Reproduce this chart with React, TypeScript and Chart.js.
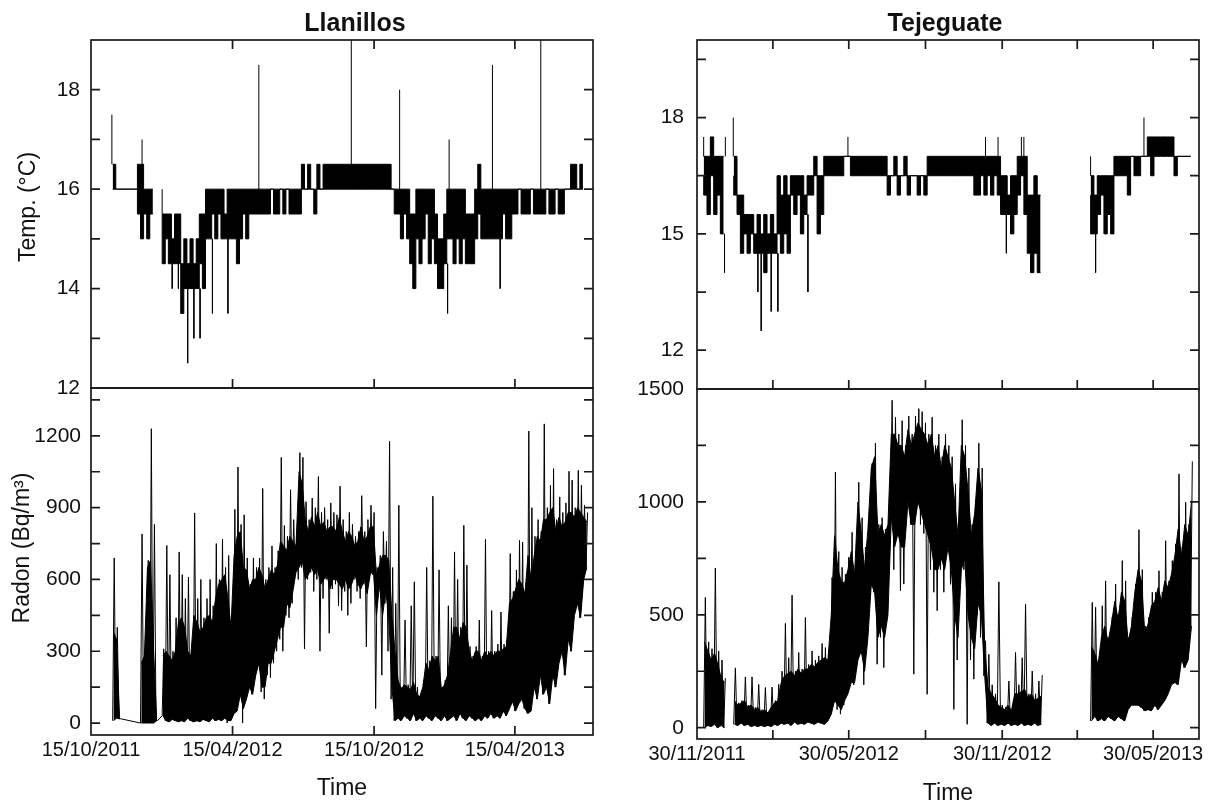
import React, { useEffect, useRef } from "react";
import { Chart, registerables } from "chart.js";
Chart.register(...registerables);

const FONT = "'Liberation Sans', Arial, Helvetica, sans-serif";
const BIN_DAYS = 4;

// ================= Llanillos (days since 15/10/2011, one bin every 4 days) =================
const LL_FIRST_DAY = 28;
// extreme low / high of each bin (thin excursions)
const LL_RADON_LO = [
  10, 20, 18, null, null, null, null, null, null, 0,
  0, 0, 0, 0, 10, null, 30, 10, 5, 15,
  10, 5, 10, 5, 20, 10, 5, 10, 5, 15,
  10, 5, 20, 10, 15, 10, 20, 0, 10, 40,
  50, 120, 0, 100, 150, 120, 200, 250, 130, 100,
  200, 190, 250, 300, 350, 300, 450, 440, 500, 630,
  600, 650, 310, 600, 630, 550, 600, 300, 520, 600,
  375, 560, 580, 490, 470, 550, 450, 500, 600, 550,
  520, 580, 318, 600, 620, 60, 550, 200, 500, 300,
  100, 10, 20, 10, 30, 20, 10, 40, 10, 20,
  10, 30, 20, 10, 30, 20, 10, 30, 10, 20,
  30, 10, 40, 20, 10, 30, 20, 10, 20, 10,
  30, 20, 40, 20, 30, 20, 50, 30, 60, 90,
  50, 80, 100, 60, 40, 50, 150, 100, 200, 120,
  150, 80, 200, 150, 250, 300, 200, 350, 300, 450,
  500, 440, 600, 650,
];
const LL_RADON_HI = [
  690, 400, 18, null, null, null, null, null, null, 790,
  300, 680, 1230, 830, 10, null, 310, 742, 620, 300,
  440, 715, 620, 520, 610, 300, 878, 520, 600, 440,
  520, 600, 490, 750, 600, 768, 650, 700, 440, 893,
  1070, 830, 870, 690, 580, 690, 650, 690, 980, 600,
  650, 740, 650, 720, 1110, 825, 780, 975, 850, 780,
  1130, 1110, 925, 850, 940, 900, 1030, 880, 900, 850,
  920, 880, 870, 990, 850, 800, 880, 830, 780, 800,
  950, 800, 850, 910, 880, 650, 700, 800, 760, 1177,
  650, 500, 910, 150, 430, 160, 490, 590, 150, 120,
  180, 650, 260, 948, 280, 640, 150, 180, 490, 440,
  715, 600, 400, 826, 660, 320, 280, 320, 430, 280,
  768, 300, 470, 300, 330, 464, 330, 350, 708, 550,
  640, 763, 756, 575, 1220, 900, 780, 850, 800, 1250,
  900, 994, 1063, 850, 945, 880, 920, 1052, 1015, 900,
  1056, 994, 910, 880,
];
// bottom / top of the dense core of each bin
const LL_RADON_CORE_LO = [
  10, 20, 18, null, null, null, null, null, null, 0,
  0, 0, 0, 0, 10, null, 30, 10, 5, 15,
  10, 5, 10, 5, 20, 10, 5, 10, 5, 15,
  10, 5, 20, 10, 15, 10, 20, 10, 10, 40,
  50, 120, 60, 100, 150, 120, 200, 250, 150, 150,
  250, 250, 300, 350, 400, 400, 500, 480, 550, 630,
  650, 680, 600, 620, 650, 620, 640, 580, 600, 620,
  560, 600, 600, 580, 560, 600, 560, 580, 620, 580,
  560, 600, 540, 620, 640, 450, 580, 450, 550, 450,
  150, 10, 20, 10, 30, 20, 10, 40, 10, 20,
  10, 30, 20, 10, 30, 20, 10, 30, 10, 20,
  30, 10, 40, 20, 10, 30, 20, 10, 20, 10,
  30, 20, 40, 20, 30, 20, 50, 30, 60, 90,
  50, 80, 100, 60, 40, 50, 150, 100, 200, 120,
  150, 80, 200, 150, 250, 300, 200, 350, 300, 450,
  500, 440, 600, 650,
];
const LL_RADON_CORE_HI = [
  380, 350, 18, null, null, null, null, null, null, 250,
  280, 650, 680, 300, 10, null, 280, 300, 280, 260,
  300, 420, 440, 400, 300, 280, 450, 420, 380, 400,
  440, 450, 420, 520, 580, 600, 620, 520, 400, 700,
  780, 800, 650, 640, 560, 600, 600, 650, 620, 560,
  600, 640, 620, 660, 760, 740, 720, 780, 760, 740,
  1050, 1000, 850, 800, 860, 820, 880, 820, 840, 800,
  820, 820, 800, 860, 800, 760, 800, 780, 740, 760,
  820, 760, 780, 820, 820, 620, 660, 700, 700, 680,
  450, 300, 180, 140, 160, 150, 140, 170, 120, 110,
  150, 250, 220, 280, 260, 280, 140, 160, 200, 300,
  400, 400, 350, 420, 400, 300, 260, 300, 300, 260,
  300, 280, 300, 280, 300, 300, 310, 320, 500, 520,
  560, 600, 580, 540, 700, 600, 700, 780, 760, 850,
  850, 880, 900, 800, 860, 820, 840, 880, 880, 860,
  900, 880, 860, 840,
];
const LL_TEMP_LO = [
  16, 16, 16, 16, 16, 16, 16, 16, 16, 15.5,
  15, 15.5, 15, 15.5, null, null, 15.5, 14.5, 15, 14.5,
  14.5, 14.5, 14.5, 13.5, 14, 14, 14, 14, 14, 14.5,
  14, 15, 15, 15.5, 15, 15.5, 15, 15, 15, 15,
  15, 14.5, 15, 15.5, 15, 15.5, 15.5, 15.5, 15.5, 15.5,
  15.5, 15.5, 16, 15.5, 15.5, 16, 15.5, 16, 15.5, 15.5,
  15.5, 15.5, 16, 16, 16, 16, 15.5, 16, 16, 16,
  16, 16, 16, 16, 16, 16, 16, 16, 16, 16,
  16, 16, 16, 16, 16, 16, 16, 16, 16, 16,
  16, 16, 15.5, 15.5, 15, 15.5, 15, 14.5, 14, 15,
  14.5, 15, 15.5, 14.5, 15, 14.5, 14, 14, 14.5, 15,
  15, 14.5, 15, 14.5, 15, 14.5, 14.5, 14.5, 15, 15.5,
  15, 15, 15, 15, 15, 15, 15, 15.5, 15, 15,
  15.5, 15.5, 16, 15.5, 15.5, 15.5, 16, 15.5, 15.5, 15.5,
  15.5, 16, 15.5, 15.5, 16, 15.5, 15.5, 16, 16, 16,
  16, 16, 16, null,
];
const LL_TEMP_HI = [
  16.5, 16.5, 16, 16, 16, 16, 16, 16, 16, 16.5,
  16.5, 16, 16, 16, null, null, 16, 15.5, 15.5, 15.5,
  15, 15.5, 15.5, 14.5, 15, 14.5, 15, 14.5, 15, 15.5,
  15.5, 16, 16, 16, 16, 16, 16, 15.5, 16, 16,
  16, 16, 16, 16, 16, 16, 16, 16, 16, 16,
  16, 16, 16, 16, 16, 16, 16, 16, 16, 16,
  16, 16, 16.5, 16, 16.5, 16, 16, 16.5, 16, 16.5,
  16.5, 16.5, 16.5, 16.5, 16.5, 16.5, 16.5, 16.5, 16.5, 16.5,
  16.5, 16.5, 16.5, 16.5, 16.5, 16.5, 16.5, 16.5, 16.5, 16.5,
  16.5, 16, 16, 16, 16, 16, 16, 15.5, 15.5, 16,
  16, 16, 16, 16, 16, 15.5, 15, 15, 15.5, 16,
  16, 16, 16, 16, 16, 15.5, 15.5, 15.5, 16, 16.5,
  16, 16, 16, 16, 16, 16, 16, 16, 16, 16,
  16, 16, 16, 16, 16, 16, 16, 16, 16, 16,
  16, 16, 16, 16, 16, 16, 16, 16, 16, 16.5,
  16.5, 16, 16.5, null,
];
// isolated single-reading spikes of temperature
const LL_TEMP_SPIKE_DAYS = [27, 66, 105, 113, 125, 133, 141, 157, 177, 217, 336.5, 399, 461, 463, 519, 529, 581.5];
const LL_TEMP_SPIKE_BASE = [16.5, 16.5, 14.5, 14.5, 14, 14, 14, 15, 15, 16, 16.5, 16, 14.5, 16, 16, 15, 16];
const LL_TEMP_SPIKE_TIP = [17.5, 17, 14, 14, 12.5, 13, 13, 13.5, 13.5, 18.5, 19.5, 18, 13.5, 17, 18.5, 14, 19.5];

const LL_X_MAX = 649;
const LL_X_TICK_DAYS = [0, 183, 366, 548];
const LL_X_TICK_LABELS = ["15/10/2011", "15/04/2012", "15/10/2012", "15/04/2013"];
const LL_TEMP_TICKS = [12, 13, 14, 15, 16, 17, 18];
const LL_TEMP_LABELS = [12, 14, 16, 18];
const LL_RADON_TICKS = [0, 150, 300, 450, 600, 750, 900, 1050, 1200, 1350];
const LL_RADON_LABELS = [0, 300, 600, 900, 1200];

// ================= Tejeguate (days since 30/11/2011, one bin every 4 days) =================
const TJ_FIRST_DAY = 8;
const TJ_RADON_LO = [
  0, 10, 5, 15, 0, 10, 0, null, null, 15,
  10, 20, 10, 15, 5, 10, 5, 10, 5, 10,
  5, 15, 10, 20, 15, 20, 10, 25, 15, 20,
  15, 25, 20, 15, 25, 20, 15, 30, 60, 120,
  80, 60, 100, 150, 200, 190, 300, 340, 190, 400,
  635, 600, 281, 400, 266, 500, 930, 700, 860, 607,
  636, 1000, 900, 237, 1000, 900, 860, 148, 700, 600,
  518, 700, 600, 800, 635, 81, 300, 635, 700, 15,
  300, 215, 500, 400, 230, 20, 10, 20, 10, 15,
  10, 20, 10, 15, 10, 20, 10, 15, 10, 20,
  10, 15, null, null, null, null, null, null, null, null,
  null, null, null, null, null, null, 30, 50, 30, 40,
  30, 50, 40, 30, 50, 40, 30, 80, 100, 100,
  100, 90, 75, 80, 75, 100, 80, 100, 120, 150,
  190, 200, 190, 300, 266, 300, 450,
];
const TJ_RADON_HI = [
  577, 380, 350, 707, 340, 300, 220, null, null, 265,
  110, 120, 225, 100, 225, 90, 192, 80, 178, 70,
  180, 120, 192, 250, 462, 310, 587, 250, 333, 260,
  488, 280, 340, 300, 318, 373, 355, 320, 665, 1132,
  780, 710, 680, 755, 865, 720, 1087, 930, 800, 930,
  1170, 1260, 900, 930, 880, 930, 1450, 1375, 1300, 1360,
  1250, 1380, 1300, 1380, 1413, 1400, 1350, 1300, 1375, 1250,
  1300, 1200, 1300, 1250, 1200, 1080, 900, 1364, 1250, 1150,
  900, 1000, 1260, 1150, 385, 325, 190, 150, 646, 100,
  90, 207, 80, 333, 190, 310, 547, 150, 251, 150,
  207, 233, null, null, null, null, null, null, null, null,
  null, null, null, null, null, null, 555, 533, 300, 540,
  650, 400, 490, 636, 500, 740, 650, 400, 490, 636,
  877, 700, 450, 490, 600, 600, 695, 600, 828, 650,
  740, 814, 1124, 800, 998, 900, 1179,
];
const TJ_RADON_CORE_LO = [
  0, 10, 5, 15, 0, 10, 0, null, null, 15,
  10, 20, 10, 15, 5, 10, 5, 10, 5, 10,
  5, 15, 10, 20, 15, 20, 10, 25, 15, 20,
  15, 25, 20, 15, 25, 20, 15, 30, 60, 120,
  100, 80, 120, 150, 200, 200, 300, 340, 250, 400,
  635, 600, 400, 450, 400, 500, 930, 800, 860, 800,
  800, 1000, 900, 900, 1000, 950, 900, 850, 800, 700,
  700, 750, 700, 800, 700, 500, 400, 700, 750, 500,
  400, 350, 550, 500, 230, 20, 10, 20, 10, 15,
  10, 20, 10, 15, 10, 20, 10, 15, 10, 20,
  10, 15, null, null, null, null, null, null, null, null,
  null, null, null, null, null, null, 30, 50, 30, 40,
  30, 50, 40, 30, 50, 40, 30, 80, 100, 100,
  100, 90, 75, 80, 75, 100, 80, 100, 120, 150,
  190, 200, 190, 300, 266, 300, 450,
];
const TJ_RADON_CORE_HI = [
  380, 340, 300, 330, 280, 220, 200, null, null, 120,
  100, 110, 120, 90, 100, 80, 90, 70, 80, 65,
  90, 110, 120, 200, 230, 240, 250, 230, 260, 240,
  260, 260, 280, 270, 290, 300, 310, 300, 500, 850,
  700, 650, 640, 700, 780, 680, 1000, 860, 700, 880,
  1150, 1200, 860, 900, 850, 900, 1300, 1300, 1250, 1250,
  1200, 1320, 1250, 1300, 1350, 1320, 1300, 1250, 1300, 1200,
  1250, 1150, 1250, 1200, 1150, 1000, 850, 1250, 1200, 1050,
  850, 950, 1150, 1050, 350, 180, 150, 130, 100, 90,
  80, 100, 75, 150, 150, 160, 170, 130, 150, 120,
  130, 140, null, null, null, null, null, null, null, null,
  null, null, null, null, null, null, 360, 330, 280, 400,
  450, 380, 460, 560, 480, 600, 560, 380, 450, 600,
  700, 650, 420, 460, 540, 560, 620, 560, 650, 620,
  680, 760, 880, 760, 900, 850, 1000,
];
const TJ_TEMP_LO = [
  16.5, 16, 15.5, 16.5, 15.5, 16, 15, null, null, 16.5,
  16, 15.5, 14.5, 15, 14.5, 15, 14.5, 14.5, 14.5, 14,
  14.5, 14.5, 14.5, 15, 14.5, 15, 14.5, 16, 15.5, 16,
  15, 15.5, 16, 16, 16.5, 15, 15.5, 16.5, 16.5, 16.5,
  16.5, 16.5, 16.5, 17, 17, 16.5, 16.5, 16.5, 16.5, 16.5,
  16.5, 16.5, 16.5, 16.5, 16.5, 16.5, 16, 16.5, 16.5, 16,
  16.5, 16.5, 16, 16.5, 16.5, 16, 16.5, 16, 16.5, 16.5,
  16.5, 16.5, 16.5, 16.5, 16.5, 16.5, 16.5, 16.5, 16.5, 16.5,
  16.5, 16.5, 16, 16, 16.5, 16, 16.5, 16, 16.5, 16,
  15.5, 15.5, 15.5, 15, 15.5, 16, 16.5, 15.5, 14.5, 14,
  14.5, 14, null, null, null, null, null, null, null, null,
  null, null, null, null, null, null, 16, 15, 15, 15.5,
  16, 15, 15.5, 15, 16.5, 16.5, 16.5, 16.5, 16, 17,
  16.5, 16.5, 17, 17, 17, 16.5, 17, 17, 17, 17,
  17, 17, 16.5, 17, 17, 17, 17,
];
const TJ_TEMP_HI = [
  17.5, 17, 17, 17.5, 17, 17, 17, null, null, 17,
  17, 16, 16, 15.5, 15.5, 15.5, 15, 15.5, 15, 15.5,
  15, 15.5, 15, 16.5, 16, 16.5, 16, 16.5, 16.5, 16.5,
  16.5, 16, 16.5, 16.5, 17, 16.5, 16.5, 17, 17, 17,
  17, 17, 17, 17, 17, 17, 17, 17, 17, 17,
  17, 17, 17, 17, 17, 17, 16.5, 16.5, 17, 16.5,
  16.5, 17, 16.5, 16.5, 16.5, 16.5, 16.5, 16.5, 17, 17,
  17, 17, 17, 17, 17, 17, 17, 17, 17, 17,
  17, 17, 17, 17, 17, 17, 17, 17, 17, 17,
  16.5, 16.5, 16, 16.5, 16.5, 17, 17, 17, 16, 16,
  16.5, 16, null, null, null, null, null, null, null, null,
  null, null, null, null, null, null, 17, 16.5, 16, 16.5,
  16.5, 16.5, 16.5, 16.5, 17, 17, 17, 17, 17, 17,
  17, 17, 17, 17, 17.5, 17.5, 17.5, 17.5, 17.5, 17.5,
  17.5, 17.5, 17, 17, 17, 17, 17,
];
const TJ_TEMP_SPIKE_DAYS = [33, 34, 43.5, 73, 77, 89, 97, 133, 181, 346, 361, 371, 389, 392, 478, 536];
const TJ_TEMP_SPIKE_BASE = [15, 17, 17, 14.5, 14.5, 14.5, 14.5, 15.5, 17, 17, 17, 15.5, 17, 17, 15, 17];
const TJ_TEMP_SPIKE_TIP = [14, 17.5, 18, 13.5, 12.5, 13, 13, 13.5, 17.5, 17.5, 17.5, 14.5, 17.5, 17.5, 14, 18];

const TJ_X_MAX = 602;
const TJ_X_TICK_DAYS = [0, 91, 182, 274, 366, 456, 547];
const TJ_X_TICK_LABELS = ["30/11/2011", "", "30/05/2012", "", "30/11/2012", "", "30/05/2013"];
const TJ_TEMP_TICKS = [12, 13.5, 15, 16.5, 18, 19.5];
const TJ_TEMP_LABELS = [12, 15, 18];
const TJ_RADON_TICKS = [0, 250, 500, 750, 1000, 1250, 1500];
const TJ_RADON_LABELS = [0, 500, 1000, 1500];

type Val = number | null;
type Pt = { x: number; y: number | null };

// thin excursion line: low of the bin, then high of the bin
function zigzag(first: number, lo: Val[], hi: Val[]): Pt[] {
  const pts: Pt[] = [];
  lo.forEach((l, i) => {
    const d = first + i * BIN_DAYS;
    pts.push({ x: d, y: l });
    pts.push({ x: d + BIN_DAYS / 2, y: hi[i] });
  });
  return pts;
}
function binSeries(first: number, vals: Val[], offset: number): Pt[] {
  return vals.map((v, i) => ({ x: first + i * BIN_DAYS + offset, y: v }));
}
function spikes(days: number[], base: number[], tip: number[]): Pt[] {
  const pts: Pt[] = [];
  days.forEach((d, i) => {
    pts.push({ x: d, y: base[i] });
    pts.push({ x: d, y: tip[i] });
    pts.push({ x: d, y: null });
  });
  return pts;
}

const framePlugin = {
  id: "frame",
  afterDraw(chart: any, _args: any, opts: any) {
    const { ctx, chartArea: a, scales } = chart;
    const L = 9;
    ctx.save();
    ctx.strokeStyle = "#1a1a1a";
    ctx.lineWidth = 1.7;
    ctx.beginPath();
    for (const t of scales.y.ticks) {
      const py = scales.y.getPixelForValue(t.value);
      if (py < a.top + 2 || py > a.bottom - 2) continue;
      ctx.moveTo(a.left, py);
      ctx.lineTo(a.left + L, py);
      ctx.moveTo(a.right, py);
      ctx.lineTo(a.right - L, py);
    }
    for (const t of scales.x.ticks) {
      const px = scales.x.getPixelForValue(t.value);
      if (px < a.left + 2 || px > a.right - 2) continue;
      if (opts.top) {
        ctx.moveTo(px, a.top);
        ctx.lineTo(px, a.top + L);
      }
      if (opts.bottom) {
        ctx.moveTo(px, a.bottom);
        ctx.lineTo(px, a.bottom - L);
      }
    }
    ctx.stroke();
    ctx.strokeRect(a.left, a.top, a.right - a.left, a.bottom - a.top);
    ctx.restore();
  },
};

interface Spec {
  left: number; top: number; width: number; height: number;
  padTop: number; padRight: number; yWidth: number; xHeight: number;
  xMax: number; xTicks: number[]; xLabels: string[]; showXLabels: boolean;
  xTitle: string; xTitlePad: number;
  yMin: number; yMax: number; yTicks: number[]; yLabels: number[]; yPad: number;
  datasets: any[];
  tickTop: boolean; tickBottom: boolean;
}

function tempDatasets(first: number, lo: Val[], hi: Val[], sd: number[], sb: number[], st: number[]) {
  return [
    { data: binSeries(first, lo, 0), borderColor: "#000", borderWidth: 1, stepped: "after", spanGaps: false, pointRadius: 0, fill: false },
    { data: binSeries(first, hi, 0), borderColor: "#000", borderWidth: 1, stepped: "after", spanGaps: false, pointRadius: 0, fill: "-1", backgroundColor: "#000" },
    { data: spikes(sd, sb, st), borderColor: "#000", borderWidth: 1, spanGaps: false, pointRadius: 0, fill: false },
  ];
}
function radonDatasets(first: number, lo: Val[], hi: Val[], clo: Val[], chi: Val[], connect: boolean) {
  return [
    { data: binSeries(first, clo, 1), borderColor: "#000", borderWidth: 1, spanGaps: false, pointRadius: 0, fill: false },
    { data: binSeries(first, chi, 1), borderColor: "#000", borderWidth: 1, spanGaps: false, pointRadius: 0, fill: "-1", backgroundColor: "#000" },
    { data: zigzag(first, lo, hi), borderColor: "#000", borderWidth: 1, spanGaps: connect, pointRadius: 0, fill: false },
  ];
}

function Panel({ spec }: { spec: Spec }) {
  const ref = useRef<HTMLCanvasElement | null>(null);
  useEffect(() => {
    if (!ref.current) return;
    const chart = new Chart(ref.current, {
      type: "line",
      data: { datasets: spec.datasets.map((d) => ({ tension: 0, ...d })) },
      options: {
        animation: false,
        responsive: false,
        maintainAspectRatio: false,
        devicePixelRatio: 1,
        events: [],
        layout: { padding: { top: spec.padTop, right: spec.padRight, left: 0, bottom: 0 } },
        plugins: {
          legend: { display: false },
          tooltip: { enabled: false },
          title: { display: false },
          frame: { top: spec.tickTop, bottom: spec.tickBottom },
        } as any,
        scales: {
          x: {
            type: "linear",
            min: 0,
            max: spec.xMax,
            afterBuildTicks: (s: any) => {
              s.ticks = spec.xTicks.map((v) => ({ value: v }));
            },
            afterFit: (s: any) => {
              s.height = spec.xHeight;
            },
            grid: { display: false, drawTicks: false },
            border: { display: false },
            ticks: {
              display: spec.showXLabels,
              autoSkip: false,
              maxRotation: 0,
              minRotation: 0,
              padding: 3,
              color: "#111",
              font: { family: FONT, size: 20 },
              callback: (v: any) => {
                const i = spec.xTicks.indexOf(Number(v));
                return i >= 0 ? spec.xLabels[i] : "";
              },
            },
            title: {
              display: spec.xTitle !== "",
              text: spec.xTitle,
              color: "#111",
              font: { family: FONT, size: 23 },
              padding: { top: 0, bottom: spec.xTitlePad },
            },
          },
          y: {
            type: "linear",
            min: spec.yMin,
            max: spec.yMax,
            afterBuildTicks: (s: any) => {
              s.ticks = spec.yTicks.map((v) => ({ value: v }));
            },
            afterFit: (s: any) => {
              s.width = spec.yWidth;
            },
            grid: { display: false, drawTicks: false },
            border: { display: false },
            ticks: {
              padding: spec.yPad,
              color: "#111",
              font: { family: FONT, size: 21 },
              callback: (v: any) => (spec.yLabels.includes(Number(v)) ? String(v) : ""),
            },
          },
        },
      } as any,
      plugins: [framePlugin as any],
    });
    return () => chart.destroy();
  }, [spec]);
  return (
    <canvas
      ref={ref}
      width={spec.width}
      height={spec.height}
      style={{ position: "absolute", left: spec.left, top: spec.top, width: spec.width, height: spec.height }}
    />
  );
}

const SPECS: Spec[] = [
  {
    left: 0, top: 0, width: 610, height: 430, padTop: 40, padRight: 17, yWidth: 91, xHeight: 42,
    xMax: LL_X_MAX, xTicks: LL_X_TICK_DAYS, xLabels: LL_X_TICK_LABELS, showXLabels: false,
    xTitle: "", xTitlePad: 0,
    yMin: 12, yMax: 19, yTicks: LL_TEMP_TICKS, yLabels: LL_TEMP_LABELS, yPad: 11,
    datasets: tempDatasets(LL_FIRST_DAY, LL_TEMP_LO, LL_TEMP_HI, LL_TEMP_SPIKE_DAYS, LL_TEMP_SPIKE_BASE, LL_TEMP_SPIKE_TIP),
    tickTop: true, tickBottom: true,
  },
  {
    left: 0, top: 340, width: 610, height: 467, padTop: 48, padRight: 17, yWidth: 91, xHeight: 72,
    xMax: LL_X_MAX, xTicks: LL_X_TICK_DAYS, xLabels: LL_X_TICK_LABELS, showXLabels: true,
    xTitle: "Time", xTitlePad: 5,
    yMin: -50, yMax: 1400, yTicks: LL_RADON_TICKS, yLabels: LL_RADON_LABELS, yPad: 10,
    datasets: radonDatasets(LL_FIRST_DAY, LL_RADON_LO, LL_RADON_HI, LL_RADON_CORE_LO, LL_RADON_CORE_HI, true),
    tickTop: false, tickBottom: true,
  },
  {
    left: 610, top: 0, width: 609, height: 430, padTop: 40, padRight: 20, yWidth: 87, xHeight: 41,
    xMax: TJ_X_MAX, xTicks: TJ_X_TICK_DAYS, xLabels: TJ_X_TICK_LABELS, showXLabels: false,
    xTitle: "", xTitlePad: 0,
    yMin: 11, yMax: 20, yTicks: TJ_TEMP_TICKS, yLabels: TJ_TEMP_LABELS, yPad: 13,
    datasets: tempDatasets(TJ_FIRST_DAY, TJ_TEMP_LO, TJ_TEMP_HI, TJ_TEMP_SPIKE_DAYS, TJ_TEMP_SPIKE_BASE, TJ_TEMP_SPIKE_TIP),
    tickTop: true, tickBottom: true,
  },
  {
    left: 610, top: 340, width: 609, height: 467, padTop: 49, padRight: 20, yWidth: 87, xHeight: 68,
    xMax: TJ_X_MAX, xTicks: TJ_X_TICK_DAYS, xLabels: TJ_X_TICK_LABELS, showXLabels: true,
    xTitle: "Time", xTitlePad: 0,
    yMin: -50, yMax: 1500, yTicks: TJ_RADON_TICKS, yLabels: TJ_RADON_LABELS, yPad: 13,
    datasets: radonDatasets(TJ_FIRST_DAY, TJ_RADON_LO, TJ_RADON_HI, TJ_RADON_CORE_LO, TJ_RADON_CORE_HI, false),
    tickTop: false, tickBottom: true,
  },
];

const textBase: React.CSSProperties = {
  position: "absolute",
  fontFamily: FONT,
  color: "#111",
  whiteSpace: "nowrap",
};

export default function App() {
  return (
    <div style={{ position: "absolute", left: 0, top: 0, width: 1219, height: 807, background: "#fff", overflow: "hidden" }}>
      {SPECS.map((s, i) => (
        <Panel key={i} spec={s} />
      ))}
      <div style={{ ...textBase, left: 255, top: 7, width: 200, textAlign: "center", fontWeight: "bold", fontSize: 25, lineHeight: "30px" }}>
        Llanillos
      </div>
      <div style={{ ...textBase, left: 845, top: 7, width: 200, textAlign: "center", fontWeight: "bold", fontSize: 25, lineHeight: "30px" }}>
        Tejeguate
      </div>
      <div style={{ ...textBase, left: 27, top: 207, fontSize: 23, lineHeight: "26px", transform: "translate(-50%, -50%) rotate(-90deg)" }}>
        Temp. (°C)
      </div>
      <div style={{ ...textBase, left: 21, top: 548, fontSize: 23, lineHeight: "26px", transform: "translate(-50%, -50%) rotate(-90deg)" }}>
        Radon (Bq/m³)
      </div>
    </div>
  );
}
